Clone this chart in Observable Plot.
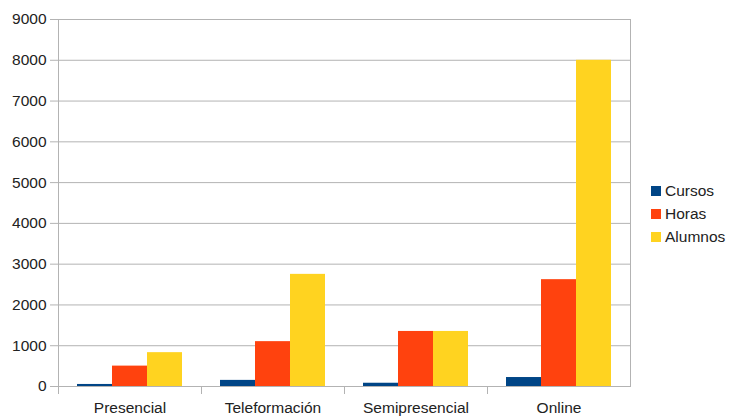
<!DOCTYPE html>
<html>
<head>
<meta charset="utf-8">
<script src="https://cdn.jsdelivr.net/npm/d3@7"></script>
<script src="https://cdn.jsdelivr.net/npm/@observablehq/plot@0.6"></script>
<style>
  html, body { margin: 0; padding: 0; background: #fff; }
  #wrap { position: relative; width: 730px; height: 416px; font-family: "Liberation Sans", Arial, sans-serif; }
  #legend { position: absolute; left: 651px; top: 179px; font-size: 15.5px; color: #222; }
  .row { display: flex; align-items: center; height: 23px; }
  .sw { width: 10px; height: 10px; margin-right: 4px; }
</style>
</head>
<body>
<div id="wrap"></div>
<script>
const categories = ["Presencial", "Teleformación", "Semipresencial", "Online"];
const series = ["Cursos", "Horas", "Alumnos"];
const colors = ["#004586", "#ff420e", "#ffd320"];
const cursos = [50, 150, 80, 220];
const horas = [500, 1100, 1350, 2620];
const alumnos = [830, 2750, 1350, 8000];
const yTicks = [0, 1000, 2000, 3000, 4000, 5000, 6000, 7000, 8000, 9000];

const values = [cursos, horas, alumnos];
const data = [];
categories.forEach((c, i) => series.forEach((s, j) => data.push({cat: c, serie: s, value: values[j][i]})));

const grid = "#b3b3b3";
const chart = Plot.plot({
  width: 730,
  height: 416,
  marginLeft: 57,
  marginRight: 100,
  marginTop: 19,
  marginBottom: 30,
  style: {fontFamily: "Liberation Sans, Arial, sans-serif", fontSize: "15.5px", color: "#222", background: "#fff"},
  fx: {domain: categories, paddingInner: 0, paddingOuter: 0, label: null},
  x: {domain: series, paddingInner: 0, paddingOuter: 0.49, axis: null},
  y: {domain: [0, 9000], label: null},
  color: {domain: series, range: colors},
  marks: [
    Plot.ruleY(yTicks, {stroke: grid, strokeWidth: 1}),
    Plot.frame({anchor: "left", insetTop: 367, insetBottom: -7, stroke: grid}),
    Plot.frame({anchor: "left", facetAnchor: "left", insetBottom: -7, stroke: grid}),
    Plot.frame({anchor: "right", facetAnchor: "right", stroke: grid}),
    Plot.barY(data, {fx: "cat", x: "serie", y: "value", fill: "serie"}),
    Plot.axisY({ticks: yTicks, tickSize: 8, tickPadding: 4, stroke: grid, fill: "#222", fontSize: 15.5, label: null, tickFormat: d => String(d)}),
    Plot.axisFx({anchor: "bottom", tickSize: 0, tickPadding: 15, fontSize: 15.5, label: null, fill: "#222"})
  ]
});
const wrap = document.getElementById("wrap");
wrap.appendChild(chart);

const legend = d3.select(wrap).append("div").attr("id", "legend");
series.forEach((s, j) => {
  const row = legend.append("div").attr("class", "row");
  row.append("div").attr("class", "sw").style("background", colors[j]);
  row.append("span").text(s);
});
</script>
</body>
</html>
